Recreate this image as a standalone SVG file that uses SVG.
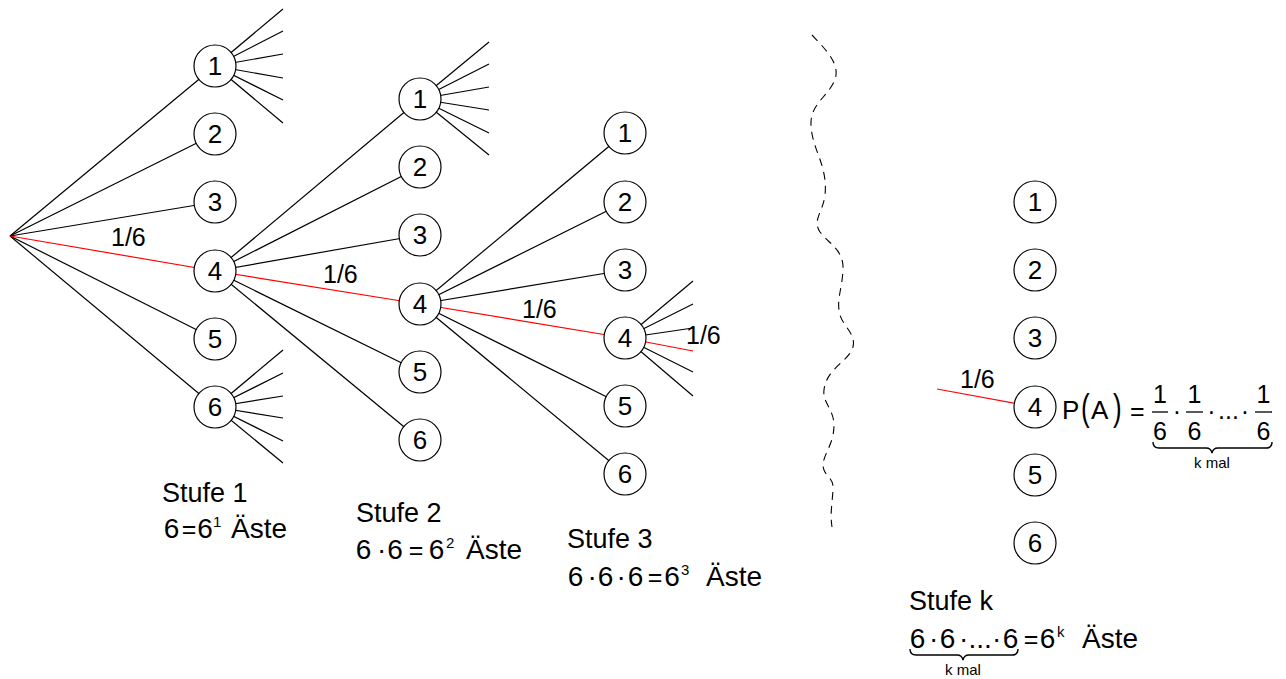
<svg xmlns="http://www.w3.org/2000/svg" width="1286" height="679" viewBox="0 0 1286 679">
<style>
text{font-family:"Liberation Sans",Arial,sans-serif;fill:#000}
.c line{stroke:#000;stroke-width:1.2}
.c line.r{stroke:#ff0000}
.n circle{fill:#fff;stroke:#000;stroke-width:1.2}
.n text{font-size:26px;text-anchor:middle}
.p{font-size:25px}
.s{font-size:27px}
.f{font-size:28px}
.eq{font-size:25px}
.sup{font-size:15px}
.sm{font-size:15px;text-anchor:middle}
.br{fill:none;stroke:#000;stroke-width:1.4}
</style>
<rect width="1286" height="679" fill="#fff"/>
<g id="connectors" class="c">
<line x1="10" y1="236" x2="215" y2="66"/>
<line x1="10" y1="236" x2="215" y2="134"/>
<line x1="10" y1="236" x2="215" y2="202"/>
<line x1="10" y1="236" x2="215" y2="339"/>
<line x1="10" y1="236" x2="215" y2="407"/>
<line class="r" x1="10" y1="236" x2="215" y2="271"/>
<line x1="215" y1="271" x2="420" y2="99"/>
<line x1="215" y1="271" x2="420" y2="167"/>
<line x1="215" y1="271" x2="420" y2="235"/>
<line x1="215" y1="271" x2="420" y2="372"/>
<line x1="215" y1="271" x2="420" y2="440"/>
<line class="r" x1="215" y1="271" x2="420" y2="304"/>
<line x1="420" y1="304" x2="625" y2="133"/>
<line x1="420" y1="304" x2="625" y2="202"/>
<line x1="420" y1="304" x2="625" y2="270"/>
<line x1="420" y1="304" x2="625" y2="406"/>
<line x1="420" y1="304" x2="625" y2="474"/>
<line class="r" x1="420" y1="304" x2="625" y2="338"/>
<line x1="215" y1="66" x2="283" y2="9"/>
<line x1="215" y1="66" x2="283" y2="31"/>
<line x1="215" y1="66" x2="283" y2="54"/>
<line x1="215" y1="66" x2="283" y2="78"/>
<line x1="215" y1="66" x2="283" y2="100"/>
<line x1="215" y1="66" x2="283" y2="123"/>
<line x1="215" y1="407" x2="283" y2="350"/>
<line x1="215" y1="407" x2="283" y2="373"/>
<line x1="215" y1="407" x2="283" y2="396"/>
<line x1="215" y1="407" x2="283" y2="418"/>
<line x1="215" y1="407" x2="283" y2="441"/>
<line x1="215" y1="407" x2="283" y2="463"/>
<line x1="420" y1="99" x2="489" y2="42"/>
<line x1="420" y1="99" x2="489" y2="64"/>
<line x1="420" y1="99" x2="489" y2="87"/>
<line x1="420" y1="99" x2="489" y2="110"/>
<line x1="420" y1="99" x2="489" y2="133"/>
<line x1="420" y1="99" x2="489" y2="155"/>
<line x1="625" y1="338" x2="693" y2="281"/>
<line x1="625" y1="338" x2="693" y2="304"/>
<line x1="625" y1="338" x2="693" y2="328"/>
<line x1="625" y1="338" x2="693" y2="372"/>
<line x1="625" y1="338" x2="693" y2="396"/>
<line class="r" x1="625" y1="338" x2="693" y2="351"/>
<line class="r" x1="937" y1="389" x2="1035" y2="407"/>
</g>
<path d="M812,35 C826,50 842,65 834,82 C826,98 810,105 811,125 C812,150 828,165 825,195 C823,212 812,220 820,232 C830,245 844,250 843,270 C842,290 836,300 840,315 C844,328 858,335 852,350 C846,362 826,370 824,390 C822,405 838,410 833,435 C830,450 820,460 824,470 C827,478 834,478 833,490 C832,505 830,515 832,527" fill="none" stroke="#000" stroke-width="1.1" stroke-dasharray="8 6"/>
<g id="s1-1" class="n"><circle cx="215" cy="66" r="21"/><text x="215" y="75">1</text></g>
<g id="s1-2" class="n"><circle cx="215" cy="134" r="21"/><text x="215" y="143">2</text></g>
<g id="s1-3" class="n"><circle cx="215" cy="202" r="21"/><text x="215" y="211">3</text></g>
<g id="s1-4" class="n"><circle cx="215" cy="271" r="21"/><text x="215" y="280">4</text></g>
<g id="s1-5" class="n"><circle cx="215" cy="339" r="21"/><text x="215" y="348">5</text></g>
<g id="s1-6" class="n"><circle cx="215" cy="407" r="21"/><text x="215" y="416">6</text></g>
<g id="s2-1" class="n"><circle cx="420" cy="99" r="21"/><text x="420" y="108">1</text></g>
<g id="s2-2" class="n"><circle cx="420" cy="167" r="21"/><text x="420" y="176">2</text></g>
<g id="s2-3" class="n"><circle cx="420" cy="235" r="21"/><text x="420" y="244">3</text></g>
<g id="s2-4" class="n"><circle cx="420" cy="304" r="21"/><text x="420" y="313">4</text></g>
<g id="s2-5" class="n"><circle cx="420" cy="372" r="21"/><text x="420" y="381">5</text></g>
<g id="s2-6" class="n"><circle cx="420" cy="440" r="21"/><text x="420" y="449">6</text></g>
<g id="s3-1" class="n"><circle cx="625" cy="133" r="21"/><text x="625" y="142">1</text></g>
<g id="s3-2" class="n"><circle cx="625" cy="202" r="21"/><text x="625" y="211">2</text></g>
<g id="s3-3" class="n"><circle cx="625" cy="270" r="21"/><text x="625" y="279">3</text></g>
<g id="s3-4" class="n"><circle cx="625" cy="338" r="21"/><text x="625" y="347">4</text></g>
<g id="s3-5" class="n"><circle cx="625" cy="406" r="21"/><text x="625" y="415">5</text></g>
<g id="s3-6" class="n"><circle cx="625" cy="474" r="21"/><text x="625" y="483">6</text></g>
<g id="sk-1" class="n"><circle cx="1035" cy="202" r="21"/><text x="1035" y="211">1</text></g>
<g id="sk-2" class="n"><circle cx="1035" cy="270" r="21"/><text x="1035" y="279">2</text></g>
<g id="sk-3" class="n"><circle cx="1035" cy="338" r="21"/><text x="1035" y="347">3</text></g>
<g id="sk-4" class="n"><circle cx="1035" cy="407" r="21"/><text x="1035" y="416">4</text></g>
<g id="sk-5" class="n"><circle cx="1035" cy="475" r="21"/><text x="1035" y="484">5</text></g>
<g id="sk-6" class="n"><circle cx="1035" cy="543" r="21"/><text x="1035" y="552">6</text></g>
<g id="labels">
<text class="p" x="111" y="246">1/6</text>
<text class="p" x="323" y="283">1/6</text>
<text class="p" x="522" y="318">1/6</text>
<text class="p" x="686" y="344">1/6</text>
<text class="p" x="960" y="388">1/6</text>
<text class="s" x="162" y="502">Stufe 1</text>
<text class="s" x="356" y="522">Stufe 2</text>
<text class="s" x="567" y="548">Stufe 3</text>
<text class="s" x="909" y="610">Stufe k</text>
</g>
<g id="formula1" class="f">
<text x="163.7" y="538">6</text><text class="eq" x="181.7" y="538">=</text><text x="197.2" y="538">6</text><text class="sup" x="213" y="527">1</text><text x="231" y="538">Äste</text>
</g>
<g id="formula2" class="f">
<text x="355.7" y="559">6</text><text x="377.1" y="559">·</text><text x="387.2" y="559">6</text><text class="eq" x="408.7" y="559">=</text><text x="428.7" y="559">6</text><text class="sup" x="446" y="548">2</text><text x="466" y="559">Äste</text>
</g>
<g id="formula3" class="f">
<text x="567.7" y="586">6</text><text x="587.6" y="586">·</text><text x="597.7" y="586">6</text><text x="616.6" y="586">·</text><text x="627.7" y="586">6</text><text class="eq" x="647.7" y="586">=</text><text x="664.2" y="586">6</text><text class="sup" x="681" y="575">3</text><text x="706" y="586">Äste</text>
</g>
<g id="formulak" class="f">
<text x="909.7" y="648">6</text><text x="929.1" y="648">·</text><text x="939.7" y="648">6</text><text x="959.1" y="648">·</text><text x="968.5" y="648">...</text><text x="992.1" y="648">·</text><text x="1002.7" y="648">6</text><text class="eq" x="1023.7" y="648">=</text><text x="1039.7" y="648">6</text><text class="sup" x="1057" y="637">k</text><text x="1082" y="648">Äste</text>
<path class="br" d="M910,649 q0,6 6,6 L957,655 q5,0 6,5 q1,-5 6,-5 L1012,655 q6,0 6,-6"/>
<text class="sm" x="963" y="675">k mal</text>
</g>
<g id="formulaP">
<text style="font-size:26px" x="1062" y="419">P</text>
<text style="font-size:26px" transform="translate(1081,420) scale(1,1.45)">(</text>
<text style="font-size:26px" x="1091" y="419">A</text>
<text style="font-size:26px" transform="translate(1113,420) scale(1,1.45)">)</text>
<text class="eq" x="1130" y="420">=</text>
<g style="font-size:25px;text-anchor:middle">
<text x="1160" y="403">1</text><text x="1160" y="440">6</text>
<text x="1194.5" y="403">1</text><text x="1194.5" y="440">6</text>
<text x="1263.5" y="403">1</text><text x="1263.5" y="440">6</text>
<text x="1177" y="420">·</text><text x="1211.5" y="420">·</text><text x="1228.5" y="419">...</text><text x="1245" y="420">·</text>
</g>
<g stroke="#000" stroke-width="1.3">
<line x1="1152" y1="412" x2="1168" y2="412"/>
<line x1="1186" y1="412" x2="1203" y2="412"/>
<line x1="1255" y1="412" x2="1272" y2="412"/>
</g>
<path class="br" d="M1153,442 q0,6 6,6 L1206,448 q5,0 6,5 q1,-5 6,-5 L1266,448 q6,0 6,-6"/>
<text class="sm" x="1212" y="468">k mal</text>
</g>
</svg>
